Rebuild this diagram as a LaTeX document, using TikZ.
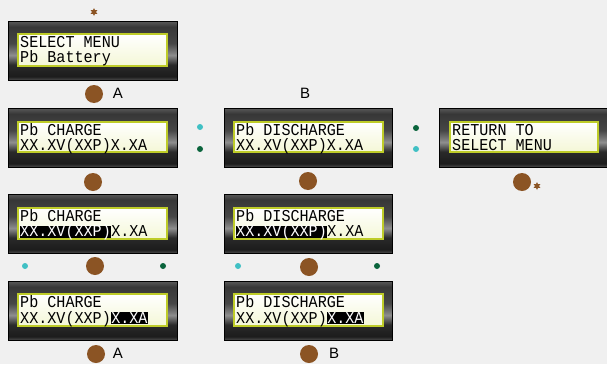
\documentclass[tikz,border=0pt]{standalone}
\usepackage{fontspec}
\newfontfamily\lcdfont[FakeStretch=0.91]{Liberation Mono}
\newfontfamily\lblfont{Liberation Sans}
\usetikzlibrary{shapes.geometric}
\definecolor{bg}{RGB}{240,240,240}
\definecolor{brownc}{RGB}{139,84,36}
\definecolor{cyanc}{RGB}{64,192,196}
\definecolor{greenc}{RGB}{10,100,60}
\definecolor{lcdedge}{RGB}{190,204,40}
\definecolor{lcdlow}{RGB}{244,247,214}
\definecolor{fbot}{RGB}{74,74,74}
\definecolor{fdark}{RGB}{28,28,28}
\definecolor{fdk2}{RGB}{42,42,42}
\definecolor{fmid}{RGB}{142,142,142}
\definecolor{fup}{RGB}{70,70,70}
\definecolor{fup2}{RGB}{55,55,55}
\definecolor{ftop}{RGB}{90,90,90}
\pgfdeclareverticalshading{framesh}{100bp}{color(0bp)=(fbot); color(25bp)=(fbot); color(28bp)=(fdark); color(38bp)=(fdk2); color(46bp)=(fmid); color(56bp)=(fup); color(70bp)=(fup2); color(75bp)=(ftop); color(100bp)=(ftop)}
\tikzset{
  frame/.style={draw=black, line width=0.8pt, shading=framesh},
  screen/.style={draw=lcdedge, line width=1.5pt, top color=white, bottom color=lcdlow},
  lcd/.style={font=\lcdfont\fontsize{16.6}{17}\selectfont, inner sep=0pt, anchor=base west, text=black, text height=11pt, text depth=1.2pt},
  hl/.style={lcd, fill=black, text=white, text height=10.6pt},
  knob/.style={circle, fill=brownc, minimum size=18pt, inner sep=0pt},
  cdot/.style={circle, fill=cyanc, minimum size=6pt, inner sep=0pt},
  gdot/.style={circle, fill=greenc, minimum size=6pt, inner sep=0pt},
  lbl/.style={font=\lblfont\fontsize{15}{16}\selectfont, inner sep=0pt},
  spark/.style={star, star points=6, star point ratio=2, fill=brownc, minimum size=8pt, inner sep=0pt}
}
\begin{document}
\begin{tikzpicture}[x=1pt,y=-1pt]
\useasboundingbox (0,0) rectangle (607,364);
\fill[bg] (0,0) rectangle (607,364);

% Top panel
\node[spark] (s0) at (94,12) {};
\shade[frame] (8,21) rectangle (177,80);
\shade[screen] (18,34) rectangle (167,66);
\node[lcd] (p0a) at (20,47) {SELECT MENU};
\node[lcd] (p0b) at (20,62.3) {Pb Battery};
\node[knob] (k0) at (94,94) {};
\node[lbl] (la0) at (118,93) {A};

% Row 2
\shade[frame] (8,108) rectangle (177,167);
\shade[screen] (18,122) rectangle (167,152);
\node[lcd] (q1a) at (20,135) {Pb CHARGE};
\node[lcd] (q1b) at (20,150.3) {XX.XV(XXP)X.XA};
\node[knob] (k1) at (93,182) {};

\node[lbl] (lb0) at (305,93) {B};
\shade[frame] (224,108) rectangle (392,167);
\shade[screen] (234,122) rectangle (383,152);
\node[lcd] (q2a) at (236,135) {Pb DISCHARGE};
\node[lcd] (q2b) at (236,150.3) {XX.XV(XXP)X.XA};
\node[knob] (k2) at (308,181) {};

\shade[frame] (439,108) rectangle (607,167);
\shade[screen] (450,122) rectangle (598,152);
\node[lcd] (q3a) at (452,135) {RETURN TO};
\node[lcd] (q3b) at (452,150.3) {SELECT MENU};
\node[knob] (k3) at (522,182) {};
\node[spark] (s3) at (537,186) {};

\node[cdot] (d1) at (200,127) {};
\node[gdot] (d2) at (200,149) {};
\node[gdot] (d3) at (416,128) {};
\node[cdot] (d4) at (416,149) {};

% Row 3
\shade[frame] (8,194) rectangle (177,253);
\shade[screen] (18,208) rectangle (167,239);
\node[lcd] (r1a) at (20,221) {Pb CHARGE};
\node[hl] (r1b) at (20,236.5) {XX.XV(XXP)};
\node[lcd] (r1c) at (r1b.base east) {X.XA};
\node[cdot] (d5) at (25,266) {};
\node[knob] (k4) at (95,266) {};
\node[gdot] (d6) at (163,266) {};

\shade[frame] (224,194) rectangle (392,253);
\shade[screen] (234,208) rectangle (383,239);
\node[lcd] (r2a) at (236,221) {Pb DISCHARGE};
\node[hl] (r2b) at (236,236.5) {XX.XV(XXP)};
\node[lcd] (r2c) at (r2b.base east) {X.XA};
\node[cdot] (d7) at (238,266) {};
\node[knob] (k5) at (309,267) {};
\node[gdot] (d8) at (377,266) {};

% Row 4
\shade[frame] (8,281) rectangle (177,340);
\shade[screen] (18,294) rectangle (167,326);
\node[lcd] (s1a) at (20,307.5) {Pb CHARGE};
\node[lcd] (s1b) at (20,323) {XX.XV(XXP)};
\node[hl] (s1c) at (s1b.base east) {X.XA};
\node[knob] (k6) at (96,354) {};
\node[lbl] (la1) at (118,353) {A};

\shade[frame] (224,281) rectangle (392,340);
\shade[screen] (234,294) rectangle (383,326);
\node[lcd] (s2a) at (236,307.5) {Pb DISCHARGE};
\node[lcd] (s2b) at (236,323) {XX.XV(XXP)};
\node[hl] (s2c) at (s2b.base east) {X.XA};
\node[knob] (k7) at (309,354) {};
\node[lbl] (lb1) at (334,353) {B};
\end{tikzpicture}
\end{document}
